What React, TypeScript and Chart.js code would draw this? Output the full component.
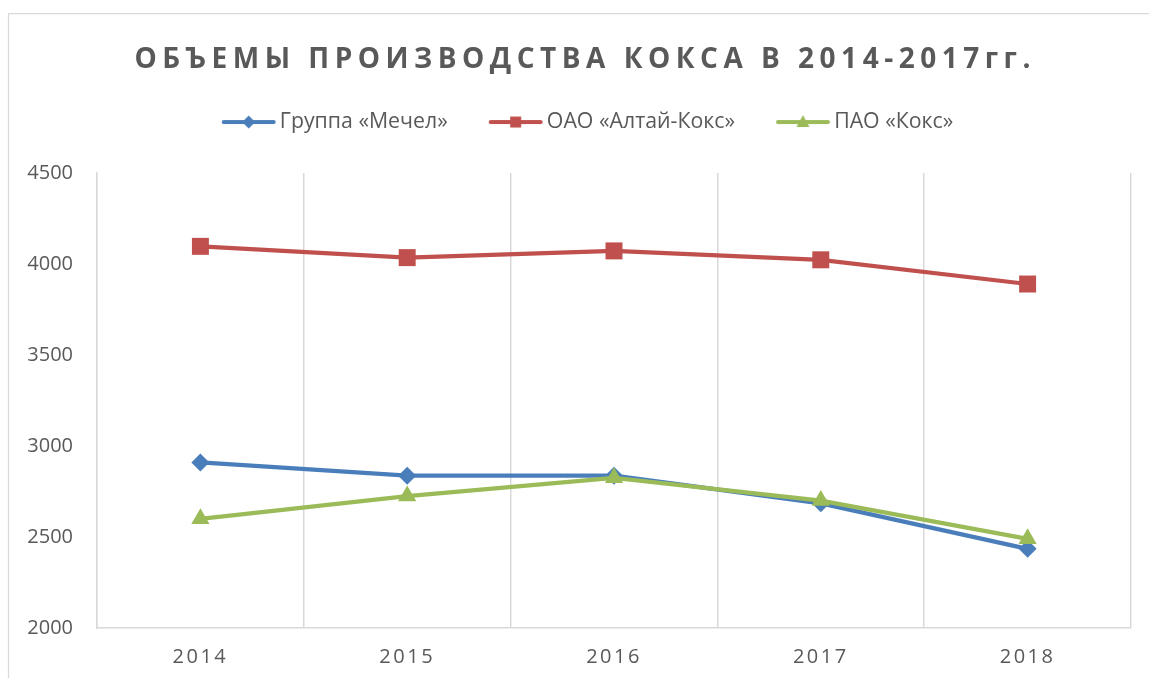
import React, { useEffect, useRef } from "react";
import { Chart, registerables } from "chart.js";

Chart.register(...registerables);

const categories = ["2014", "2015", "2016", "2017", "2018"];
const mechel = [2910, 2837, 2837, 2685, 2435];
const altaiKoks = [4097, 4035, 4072, 4023, 3890];
const paoKoks = [2600, 2725, 2825, 2700, 2490];
const seriesNames = ["Группа «Мечел»", "ОАО «Алтай-Кокс»", "ПАО «Кокс»"];
const yTicks = [2000, 2500, 3000, 3500, 4000, 4500];
const titleText = "ОБЪЕМЫ ПРОИЗВОДСТВА КОКСА В 2014-2017гг.";

const BLUE = "#4A7EBB";
const RED = "#C0504D";
const GREEN = "#9BBB59";
const TEXT = "#595959";
const GRID = "#D9D9D9";
const FONT = "'Open Sans', 'DejaVu Sans', sans-serif";

// legend sample geometry
const BOX_W = 71.5; // legend box width used by Chart.js layout
const LINE_OFF = 24; // visible line starts this far after box start
const LINE_LEN = 54;

function legendImage(color: string, style: string) {
  const half = LINE_OFF + LINE_LEN - BOX_W / 2 + 2;
  const IW = Math.ceil(half * 2);
  const H = 20;
  const c = document.createElement("canvas");
  c.width = IW;
  c.height = H;
  const g = c.getContext("2d")!;
  const cx0 = IW / 2 - BOX_W / 2; // box start in image coords
  const x1 = cx0 + LINE_OFF + 2;
  const x2 = cx0 + LINE_OFF + LINE_LEN - 2;
  g.strokeStyle = color;
  g.fillStyle = color;
  g.lineWidth = 4;
  g.lineCap = "round";
  g.beginPath();
  g.moveTo(x1, 10);
  g.lineTo(x2, 10);
  g.stroke();
  const cx = (x1 + x2) / 2, cy = 10;
  g.beginPath();
  if (style === "diamond") {
    g.moveTo(cx, cy - 6.5);
    g.lineTo(cx + 6.5, cy);
    g.lineTo(cx, cy + 6.5);
    g.lineTo(cx - 6.5, cy);
  } else if (style === "square") {
    g.rect(cx - 5.5, cy - 5.5, 11, 11);
  } else {
    g.moveTo(cx, cy - 7);
    g.lineTo(cx + 6.5, cy + 5);
    g.lineTo(cx - 6.5, cy + 5);
  }
  g.closePath();
  g.fill();
  return c;
}

const framePlugin = {
  id: "frame",
  beforeDraw(chart: any) {
    const ctx = chart.ctx;
    ctx.save();
    ctx.fillStyle = "#FFFFFF";
    ctx.fillRect(0, 0, chart.width, chart.height);
    ctx.strokeStyle = GRID;
    ctx.lineWidth = 1.25;
    ctx.beginPath();
    ctx.moveTo(8.5, chart.height);
    ctx.lineTo(8.5, 13.5);
    ctx.lineTo(chart.width, 13.5);
    ctx.stroke();
    ctx.restore();
  },
};

const spacingPlugin = {
  id: "spacing",
  afterLayout(chart: any) {
    const tb = chart.titleBlock;
    if (tb && !tb._spaced) {
      const orig = tb.draw;
      tb.draw = function (...args: any[]) {
        const ctx = chart.ctx;
        ctx.save();
        ctx.translate(9.75, 0);
        ctx.letterSpacing = "5.5px";
        orig.apply(tb, args);
        ctx.restore();
      };
      tb._spaced = true;
    }
    const xs = chart.scales.x;
    if (xs && !xs._spaced) {
      const origL = xs.drawLabels;
      xs.drawLabels = function (...args: any[]) {
        const ctx = chart.ctx;
        ctx.save();
        ctx.letterSpacing = "2.5px";
        origL.apply(xs, args);
        ctx.restore();
      };
      xs._spaced = true;
    }
  },
};

export default function App() {
  const ref = useRef<HTMLCanvasElement>(null);
  useEffect(() => {
    const images = [
      legendImage(BLUE, "diamond"),
      legendImage(RED, "square"),
      legendImage(GREEN, "triangle"),
    ];
    const chart = new Chart(ref.current!, {
      type: "line",
      data: {
        labels: categories,
        datasets: [
          {
            label: seriesNames[0],
            data: mechel,
            borderColor: BLUE,
            backgroundColor: BLUE,
            borderWidth: 4.2,
            pointStyle: "rectRot",
            pointRadius: 9,
            pointBorderWidth: 0,
            order: 3,
          },
          {
            label: seriesNames[1],
            data: altaiKoks,
            borderColor: RED,
            backgroundColor: RED,
            borderWidth: 4.2,
            pointStyle: "rect",
            pointRadius: 12,
            pointBorderWidth: 0,
            order: 2,
          },
          {
            label: seriesNames[2],
            data: paoKoks,
            borderColor: GREEN,
            backgroundColor: GREEN,
            borderWidth: 4.2,
            pointStyle: "triangle",
            pointRadius: 10.5,
            pointBorderWidth: 0,
            order: 1,
          },
        ],
      },
      options: {
        responsive: false,
        animation: false,
        layout: { padding: { left: 20, right: 18, top: 0, bottom: 0 } },
        plugins: {
          tooltip: { enabled: false },
          title: {
            display: true,
            text: titleText,
            color: TEXT,
            font: { family: FONT, size: 28, weight: "bold", lineHeight: 1.2 },
            padding: { top: 43, bottom: 17.8 },
          },
          subtitle: {
            display: true,
            text: " ",
            weight: 500,
            font: { size: 1, lineHeight: 1 },
            padding: { top: 29.3, bottom: 0 },
          } as any,
          legend: {
            display: true,
            position: "top",
            labels: {
              usePointStyle: true,
              pointStyleWidth: BOX_W,
              padding: 41 - LINE_OFF,
              color: TEXT,
              font: { family: FONT, size: 21.3 },
              sort: (a: any, b: any) => a.datasetIndex - b.datasetIndex,
              generateLabels: (ch: any) =>
                ch.data.datasets.map((ds: any, i: number) => ({
                  text: ds.label,
                  datasetIndex: i,
                  pointStyle: images[i],
                  fillStyle: ds.borderColor,
                  strokeStyle: ds.borderColor,
                  lineWidth: 0,
                  hidden: false,
                  fontColor: TEXT,
                })),
            },
          },
        },
        scales: {
          x: {
            type: "category",
            offset: true,
            afterFit: (s: any) => {
              s.height = 50;
            },
            grid: {
              display: true,
              offset: true,
              color: GRID,
              lineWidth: 1.5,
              drawTicks: false,
            },
            border: { display: true, color: GRID, width: 1.5 },
            ticks: {
              color: TEXT,
              padding: 17,
              font: { family: FONT, size: 20 },
              maxRotation: 0,
            },
          },
          y: {
            min: yTicks[0],
            max: yTicks[yTicks.length - 1],
            afterFit: (s: any) => {
              s.width = 77;
            },
            afterBuildTicks: (s: any) => {
              s.ticks = yTicks.map((v) => ({ value: v }));
            },
            grid: { display: false, drawTicks: false },
            border: { display: true, color: GRID, width: 1.5 },
            ticks: {
              color: TEXT,
              padding: 24,
              font: { family: FONT, size: 20 },
              callback: (v: any) => String(v),
            },
          },
        },
      },
      plugins: [framePlugin, spacingPlugin],
    });
    return () => chart.destroy();
  }, []);
  return (
    <div style={{ position: "fixed", left: 0, top: 0, width: 1149, height: 678, background: "#fff" }}>
      <canvas ref={ref} width={1149} height={678} style={{ display: "block", width: 1149, height: 678 }} />
    </div>
  );
}
